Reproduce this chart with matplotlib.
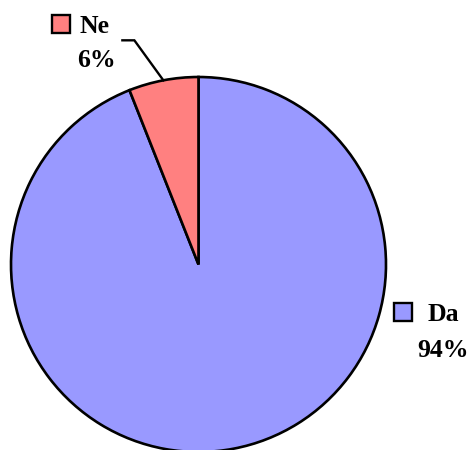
import matplotlib.pyplot as plt
from matplotlib.patches import Rectangle
import numpy as np

labels = ['Da', 'Ne']
values = [94, 6]
colors = ['#9999FF', '#FF8080']

W, H = 470, 450
fig = plt.figure(figsize=(W / 100, H / 100), dpi=100)
ax = fig.add_axes([0, 0, 1, 1])

# pie in pixel coordinates (y up)
cx, cy, r = 198.5, H - 264.5, 187.5
wedges, _ = ax.pie(values, colors=colors, startangle=90, counterclock=False,
                   center=(cx, cy), radius=r, frame=True,
                   wedgeprops=dict(edgecolor='black', linewidth=1.9))
ax.set_xlim(0, W)
ax.set_ylim(0, H)
ax.set_aspect('equal')
ax.axis('off')

font = dict(family='Liberation Serif', weight='bold', size=18.5)

# leader line for Ne from middle of its arc
w = wedges[1]
mid = np.deg2rad((w.theta1 + w.theta2) / 2)
x0, y0 = cx + r * np.cos(mid), cy + r * np.sin(mid)
ax.plot([x0, x0 - 29, x0 - 41], [y0, y0 + 40, y0 + 40], color='black', lw=1.7,
        solid_joinstyle='miter')

# labels with legend keys
def label(key_x, key_y, size, name, nx, ny, pct, px, py, color):
    ax.add_patch(Rectangle((key_x, H - key_y - size), size, size, facecolor=color,
                           edgecolor='black', lw=1.7))
    ax.text(nx, H - ny, name, ha='left', va='baseline', **font)
    ax.text(px, H - py, pct, ha='left', va='baseline', **font)

label(52, 15, 18, labels[1], 80, 33, '%d%%' % values[1], 77, 67, colors[1])
label(394, 303, 18, labels[0], 428, 321, '%d%%' % values[0], 417, 357, colors[0])

fig.savefig('out.png', dpi=100)
